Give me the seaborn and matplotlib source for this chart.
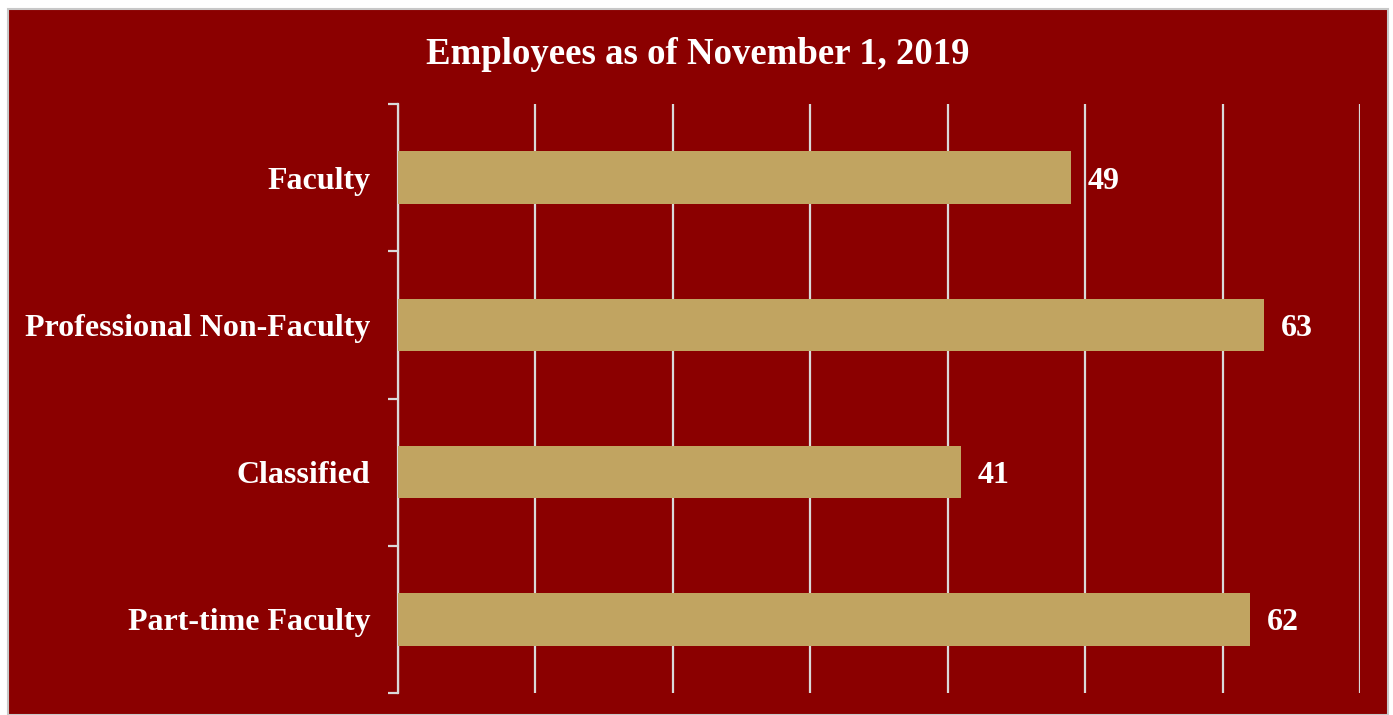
import matplotlib
matplotlib.use("Agg")
import matplotlib.pyplot as plt
import seaborn as sns
import pandas as pd
from matplotlib.patches import Rectangle
from matplotlib.ticker import FixedLocator

categories = ["Faculty", "Professional Non-Faculty", "Classified", "Part-time Faculty"]
values = [49, 63, 41, 62]
title = "Employees as of November 1, 2019"

RED = "#8B0000"
TAN = "#C1A461"
GRID = "#D9D9D9"

sns.set_theme(style="white")
plt.rcParams["font.family"] = ["Liberation Serif", "DejaVu Serif"]

df = pd.DataFrame({"category": categories, "value": values})

W, H = 1393, 715
fig = plt.figure(figsize=(W / 100, H / 100), dpi=100, facecolor="white")
bg = Rectangle((8 / W, 0), (1388 - 8) / W, (715 - 9) / H,
               transform=fig.transFigure, facecolor=RED,
               edgecolor="#C8C8C8", linewidth=1.5, zorder=-10)
fig.add_artist(bg)

ax = fig.add_axes([398 / W, 1 - 693 / H, (1360 - 398) / W, (693 - 104) / H])
ax.set_facecolor(RED)
ax.set_zorder(1)

sns.barplot(data=df, y="category", x="value", orient="h", color=TAN,
            width=0.355, saturation=1, linewidth=0, ax=ax, zorder=3)

ax.set_xlim(0, 70)
ax.set_ylim(3.5, -0.5)
ax.set_xticks(range(0, 71, 10))
ax.xaxis.grid(True, color=GRID, linewidth=1.6)
ax.set_axisbelow(True)
ax.tick_params(axis="x", bottom=False, labelbottom=False)
ax.set_xlabel("")
ax.set_ylabel("")

for s in ["top", "right", "bottom"]:
    ax.spines[s].set_visible(False)
ax.spines["left"].set_color(GRID)
ax.spines["left"].set_linewidth(1.6)

ax.yaxis.set_major_locator(FixedLocator(range(len(categories))))
ax.set_yticklabels(categories)
ax.yaxis.set_minor_locator(FixedLocator([-0.5, 0.5, 1.5, 2.5, 3.5]))
ax.tick_params(axis="y", which="major", length=0, pad=20, labelsize=23,
               labelcolor="white")
ax.tick_params(axis="y", which="minor", left=True, length=7, width=1.6, color=GRID)
for lab in ax.get_yticklabels():
    lab.set_fontweight("bold")
    lab.set_va("center_baseline")

for i, v in enumerate(values):
    ax.annotate(str(v), xy=(v, i), xytext=(12, 0), textcoords="offset points",
                va="center_baseline", ha="left", color="white", fontsize=23,
                fontweight="bold")

fig.text((8 + 1388) / 2 / W, 1 - 55 / H, title, ha="center", va="center",
         color="white", fontsize=26.5, fontweight="bold")

fig.savefig("out.png", dpi=100, facecolor="white")
